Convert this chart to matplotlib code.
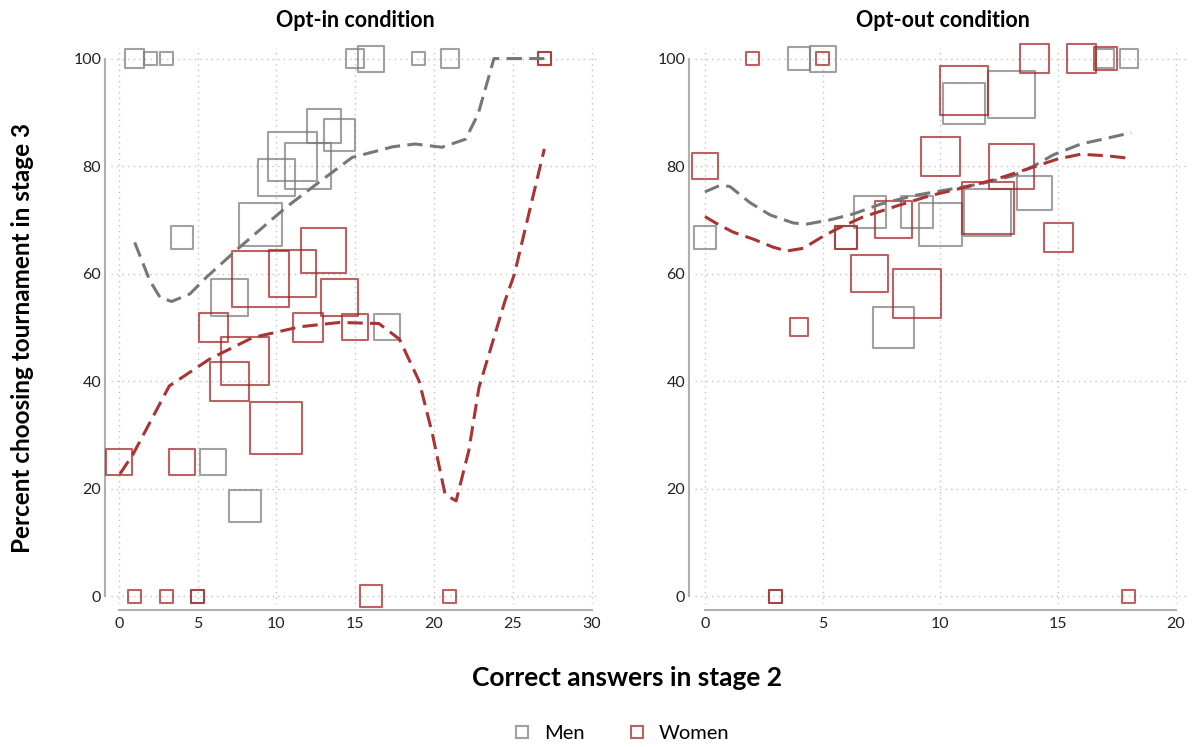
import numpy as np
import matplotlib
matplotlib.use("Agg")
import matplotlib.pyplot as plt
from matplotlib.lines import Line2D

plt.rcParams['font.family'] = ['Lato', 'DejaVu Sans']

# ---- Opt-in panel: (correct answers, percent choosing tournament, number of people)
optin_men_x = [1, 2, 3, 15, 16, 19, 21, 13, 14, 11, 12, 10, 9, 4, 7, 17, 6, 8, 5, 27]
optin_men_y = [100, 100, 100, 100, 100, 100, 100, 87.5, 85.7, 81.8, 80, 77.8, 69.2,
               66.7, 55.6, 50, 25, 16.7, 0, 100]
optin_men_n = [2, 1, 1, 2, 4, 1, 2, 7, 6, 14, 13, 8, 11, 3, 8, 4, 4, 6, 1, 1]

optin_women_x = [9, 11, 13, 14, 6, 12, 15, 8, 7, 10, 0, 4, 1, 3, 5, 16, 21, 27]
optin_women_y = [59, 60, 64.3, 55.6, 50, 50, 50, 43.75, 40, 31.25, 25, 25, 0, 0, 0, 0, 0, 100]
optin_women_n = [19, 13, 12, 8, 5, 5, 4, 14, 9, 16, 4, 4, 1, 1, 1, 3, 1, 1]

# smoothed fits
optin_men_fit_x = [1.0, 1.54, 1.96, 2.6, 3.34, 4.5, 5.55, 7.66, 10.6, 12.7, 14.8, 17.4, 18.8,
                   20.5, 22.0, 22.8, 23.8, 27.0]
optin_men_fit_y = [65.8, 61.8, 58.7, 55.6, 54.8, 56.2, 59.3, 64.9, 72.3, 77.0, 81.6, 83.6, 84.1,
                   83.5, 85.0, 89.7, 100, 100]
optin_women_fit_x = [0.06, 0.9, 3.2, 5.76, 8.5, 11.5, 14.0, 16.5, 17.8, 19.05, 19.9,
                     20.7, 21.4, 22.2, 22.85, 24.5, 25.1, 27.0]
optin_women_fit_y = [22.7, 26.4, 39.1, 44.1, 48.1, 50.1, 50.9, 50.7, 47.8, 40.0, 30.1,
                     18.9, 17.7, 27.0, 38.8, 54.9, 59.9, 83.2]

# ---- Opt-out panel
optout_men_x = [0, 4, 5, 17, 18, 11, 13, 14, 7, 9, 10, 12, 8, 6, 3]
optout_men_y = [66.7, 100, 100, 100, 100, 91.7, 93.3, 75, 71.4, 71.4, 69.2, 71.4, 50, 66.7, 0]
optout_men_n = [3, 3, 4, 2, 2, 10, 13, 7, 6, 6, 11, 13, 10, 3, 1]

optout_women_x = [0, 2, 5, 14, 16, 17, 11, 10, 13, 8, 6, 15, 7, 9, 4, 12, 3, 18]
optout_women_y = [80, 100, 100, 100, 100, 100, 94, 81.8, 80, 70, 66.7, 66.7, 60, 56.25,
                  50, 72.2, 0, 0]
optout_women_n = [4, 1, 1, 5, 5, 3, 14, 9, 12, 8, 3, 5, 8, 14, 2, 16, 1, 1]

optout_men_fit_x = [0, 0.64, 1.06, 1.91, 2.77, 3.76, 4.33, 5.32, 6.31, 7.45, 8.86, 10.3,
                    11.7, 13.1, 14.0, 14.8, 15.96, 17.1, 18.1]
optout_men_fit_y = [75.2, 76.4, 76.2, 73.2, 70.9, 69.4, 69.2, 70.0, 71.1, 72.9, 74.5, 75.6,
                    76.7, 78.2, 80.1, 82.1, 84.1, 85.2, 86.2]
optout_women_fit_x = [0, 0.5, 1.2, 2.06, 2.9, 3.48, 4.18, 4.89, 5.6, 6.7, 8.16, 9.57,
                      11.0, 12.4, 13.8, 14.97, 15.96, 17.1, 18.1]
optout_women_fit_y = [70.6, 69.3, 67.7, 66.4, 64.9, 64.2, 64.7, 66.6, 68.3, 70.5, 72.6,
                      74.5, 76.0, 77.6, 79.6, 81.3, 82.2, 81.9, 81.4]

MEN_C = '#7a7a7a'
WOMEN_C = '#a02020'
BASE = 13 * 0.72  # side of a one-person marker, in points


def draw_panel(ax, mx, my, mn, wx, wy, wn, mfx, mfy, wfx, wfy, xmax, xlim, title):
    ax.grid(True, color='#c4c4c4', linestyle=(0, (1, 3)), linewidth=1.0)
    ax.set_axisbelow(True)
    ax.scatter(mx, my, s=(BASE * np.sqrt(mn)) ** 2, marker='s', facecolors='none',
               edgecolors=MEN_C, linewidths=1.5, alpha=0.7, clip_on=False, zorder=3)
    ax.scatter(wx, wy, s=(BASE * np.sqrt(wn)) ** 2, marker='s', facecolors='none',
               edgecolors=WOMEN_C, linewidths=1.5, alpha=0.7, clip_on=False, zorder=3)
    ax.plot(mfx, mfy, color='#777777', lw=2.2, dashes=(5, 2.4), zorder=4)
    ax.plot(wfx, wfy, color='#a83434', lw=2.2, dashes=(5, 2.4), zorder=4)

    ax.set_xlim(*xlim)
    ax.set_ylim(-1.5, 102)
    ax.set_xticks(np.arange(0, xmax + 1, 5))
    ax.set_yticks(np.arange(0, 101, 20))
    for s in ['top', 'right']:
        ax.spines[s].set_visible(False)
    ax.spines['left'].set_position(('outward', 4))
    ax.spines['bottom'].set_position(('outward', 4.5))
    ax.spines['left'].set_bounds(0, 100)
    ax.spines['bottom'].set_bounds(0, xmax)
    for s in ['left', 'bottom']:
        ax.spines[s].set_color('#b0b0b0')
        ax.spines[s].set_linewidth(1.5)
    ax.tick_params(length=0, labelsize=11.5, labelcolor='#222222')
    ax.tick_params(axis='y', pad=3)
    ax.tick_params(axis='x', pad=5)
    ax.set_title(title, fontsize=15.5, fontweight='bold', pad=15)


fig = plt.figure(figsize=(11.94, 7.47), dpi=100)
ax1 = fig.add_axes([0.0930, 0.1913, 0.4091, 0.7447])
ax2 = fig.add_axes([0.5821, 0.1913, 0.4146, 0.7447])

draw_panel(ax1, optin_men_x, optin_men_y, optin_men_n,
           optin_women_x, optin_women_y, optin_women_n,
           optin_men_fit_x, optin_men_fit_y, optin_women_fit_x, optin_women_fit_y,
           30, (-0.5, 30.5), 'Opt-in condition')
draw_panel(ax2, optout_men_x, optout_men_y, optout_men_n,
           optout_women_x, optout_women_y, optout_women_n,
           optout_men_fit_x, optout_men_fit_y, optout_women_fit_x, optout_women_fit_y,
           20, (-0.42, 20.6), 'Opt-out condition')

fig.text(0.019, 0.548, 'Percent choosing tournament in stage 3', rotation=90,
         ha='center', va='center', fontsize=17.5, fontweight='bold')
fig.text(0.525, 0.093, 'Correct answers in stage 2', ha='center', va='center',
         fontsize=19, fontweight='bold')

handles = [Line2D([], [], marker='s', linestyle='none', markersize=9,
                  markerfacecolor='none', markeredgecolor=MEN_C, markeredgewidth=1.5,
                  alpha=0.7, label='Men'),
           Line2D([], [], marker='s', linestyle='none', markersize=9,
                  markerfacecolor='none', markeredgecolor=WOMEN_C, markeredgewidth=1.5,
                  alpha=0.7, label='Women')]
fig.legend(handles=handles, loc='center', bbox_to_anchor=(0.5155, 0.018), ncol=2,
           frameon=False, fontsize=14.5, handletextpad=0.1, columnspacing=1.6)

fig.savefig('out.png', dpi=100)
